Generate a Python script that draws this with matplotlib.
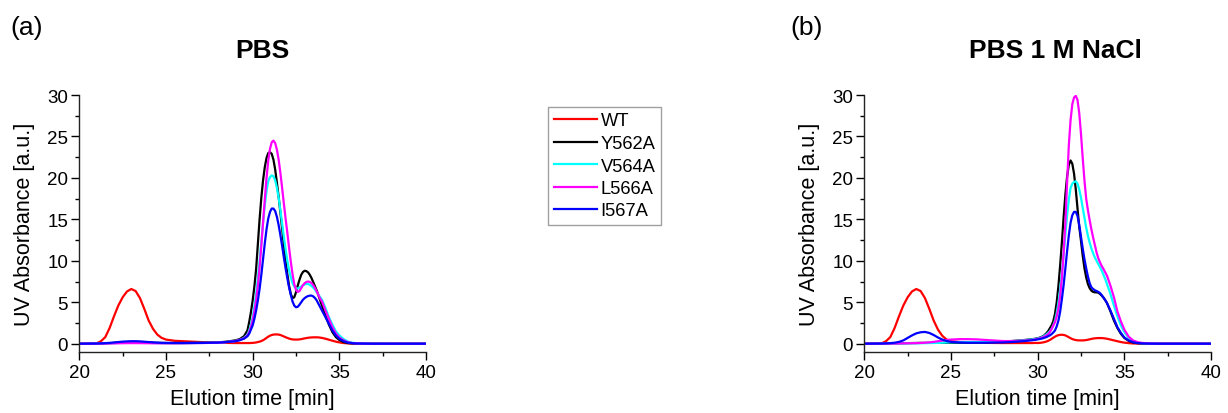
import matplotlib
matplotlib.use("Agg")
import matplotlib.pyplot as plt
from matplotlib.ticker import MultipleLocator

plt.rcParams['font.family'] = ['Liberation Sans', 'DejaVu Sans']

# elution time grid (min), shared by every trace
time = [20, 21, 21.25, 21.5, 21.75, 22, 22.25, 22.5, 22.75, 23, 23.25, 23.5, 23.75, 24, 24.25, 24.5, 24.75, 25,
        25.5, 26, 26.5, 27, 28, 28.5, 29, 29.25, 29.5, 29.7, 29.8, 29.9,
        30.0, 30.1, 30.2, 30.3, 30.4, 30.5, 30.6, 30.7, 30.8, 30.9,
        31.0, 31.1, 31.2, 31.3, 31.4, 31.5, 31.6, 31.7, 31.8, 31.9,
        32.0, 32.1, 32.2, 32.3, 32.4, 32.5, 32.6, 32.7, 32.8, 32.9,
        33.0, 33.1, 33.2, 33.3, 33.4, 33.5, 33.6, 33.7, 33.8, 33.9,
        34.0, 34.2, 34.4, 34.6, 34.8, 35.0, 35.25, 35.5, 35.75, 36, 36.5, 37, 40]

variants = ['WT', 'Y562A', 'V564A', 'L566A', 'I567A']
colors = ['#ff0000', '#000000', '#00ffff', '#ff00ff', '#0000ff']

# --- PBS
pbs_wt = [0, 0.05, 0.3, 0.8, 1.9, 3.3, 4.6, 5.6, 6.3, 6.6, 6.35, 5.5, 4.2, 2.8, 1.8, 1.1, 0.7, 0.5,
          0.35, 0.3, 0.25, 0.2, 0.12, 0.1, 0.08, 0.08, 0.08, 0.08, 0.08, 0.09,
          0.1, 0.12, 0.15, 0.2, 0.25, 0.32, 0.42, 0.55, 0.7, 0.85,
          0.97, 1.05, 1.1, 1.12, 1.12, 1.1, 1.05, 0.97, 0.88, 0.78,
          0.7, 0.62, 0.56, 0.52, 0.5, 0.5, 0.5, 0.52, 0.55, 0.6,
          0.64, 0.68, 0.72, 0.74, 0.76, 0.77, 0.77, 0.77, 0.76, 0.73,
          0.7, 0.6, 0.48, 0.36, 0.25, 0.16, 0.08, 0.04, 0.02, 0.01, 0, 0, 0]
pbs_y562a = [0, 0.02, 0.03, 0.05, 0.07, 0.1, 0.12, 0.15, 0.17, 0.18, 0.18, 0.17, 0.15, 0.13, 0.12, 0.1, 0.09, 0.08,
             0.08, 0.08, 0.09, 0.1, 0.15, 0.25, 0.4, 0.55, 0.9, 1.6, 2.6, 3.8,
             5.2, 6.9, 9.0, 12.0, 15.0, 17.6, 19.7, 21.3, 22.4, 23.0,
             23.1, 22.9, 22.2, 21.0, 19.4, 17.7, 15.8, 13.9, 11.9, 10.0,
             8.4, 7.0, 6.0, 5.5, 5.6, 6.2, 7.0, 7.7, 8.3, 8.65,
             8.8, 8.75, 8.6, 8.3, 7.9, 7.4, 6.9, 6.4, 5.8, 5.2,
             4.6, 3.4, 2.3, 1.4, 0.8, 0.45, 0.2, 0.08, 0.04, 0.02, 0.01, 0, 0]
pbs_v564a = [0, 0.02, 0.03, 0.04, 0.05, 0.07, 0.09, 0.11, 0.12, 0.13, 0.13, 0.12, 0.11, 0.1, 0.09, 0.08, 0.07, 0.07,
             0.07, 0.07, 0.08, 0.09, 0.12, 0.2, 0.32, 0.45, 0.7, 1.1, 1.6, 2.3,
             3.2, 4.5, 6.0, 7.9, 10.0, 12.3, 14.6, 16.7, 18.4, 19.6,
             20.1, 20.3, 20.2, 19.7, 18.8, 17.6, 16.1, 14.5, 12.9, 11.4,
             10.0, 8.9, 8.0, 7.3, 6.9, 6.7, 6.65, 6.75, 6.9, 7.05,
             7.15, 7.2, 7.2, 7.1, 6.95, 6.75, 6.5, 6.2, 5.9, 5.6,
             5.3, 4.3, 3.2, 2.3, 1.5, 1.0, 0.55, 0.25, 0.12, 0.06, 0.02, 0.01, 0]
pbs_l566a = [0, 0.01, 0.02, 0.02, 0.03, 0.04, 0.05, 0.06, 0.07, 0.07, 0.07, 0.07, 0.06, 0.06, 0.05, 0.05, 0.05, 0.05,
             0.05, 0.06, 0.07, 0.08, 0.12, 0.2, 0.32, 0.45, 0.65, 1.0, 1.4, 2.0,
             2.8, 3.9, 5.3, 7.0, 9.2, 11.8, 14.6, 17.4, 20.0, 22.1,
             23.5, 24.3, 24.5, 24.2, 23.4, 22.2, 20.6, 18.8, 16.9, 15.1,
             13.4, 11.6, 9.9, 8.4, 7.2, 6.5, 6.25, 6.35, 6.7, 7.05,
             7.3, 7.45, 7.5, 7.45, 7.3, 7.05, 6.7, 6.3, 5.85, 5.4,
             5.1, 4.0, 3.0, 2.0, 1.25, 0.75, 0.4, 0.18, 0.08, 0.04, 0.01, 0, 0]
pbs_i567a = [0, 0.02, 0.04, 0.07, 0.1, 0.15, 0.2, 0.25, 0.28, 0.3, 0.3, 0.28, 0.24, 0.2, 0.16, 0.13, 0.11, 0.1,
             0.09, 0.09, 0.1, 0.1, 0.13, 0.2, 0.3, 0.42, 0.6, 0.9, 1.2, 1.7,
             2.2, 3.0, 4.0, 5.2, 6.6, 8.3, 10.2, 12.1, 13.8, 15.1,
             15.9, 16.3, 16.3, 16.0, 15.3, 14.3, 13.1, 11.8, 10.4, 9.1,
             7.9, 6.8, 5.9, 5.1, 4.6, 4.4, 4.45, 4.7, 5.0, 5.3,
             5.5, 5.65, 5.75, 5.8, 5.8, 5.7, 5.5, 5.2, 4.8, 4.4,
             4.0, 3.2, 2.4, 1.6, 1.0, 0.6, 0.3, 0.13, 0.06, 0.03, 0.01, 0, 0]

# --- PBS + 1 M NaCl
nacl_wt = [0, 0.05, 0.3, 0.8, 1.9, 3.3, 4.6, 5.6, 6.3, 6.6, 6.35, 5.5, 4.2, 2.8, 1.7, 0.95, 0.5, 0.3,
           0.2, 0.15, 0.12, 0.1, 0.08, 0.08, 0.08, 0.08, 0.08, 0.08, 0.09, 0.1,
           0.08, 0.1, 0.12, 0.15, 0.2, 0.26, 0.34, 0.45, 0.58, 0.72,
           0.85, 0.96, 1.03, 1.07, 1.08, 1.06, 1.0, 0.9, 0.78, 0.66,
           0.56, 0.49, 0.44, 0.41, 0.4, 0.4, 0.4, 0.41, 0.44, 0.48,
           0.53, 0.58, 0.62, 0.65, 0.67, 0.68, 0.68, 0.68, 0.66, 0.63,
           0.6, 0.5, 0.4, 0.3, 0.2, 0.13, 0.07, 0.03, 0.02, 0.01, 0, 0, 0]
nacl_y562a = [0, 0.01, 0.02, 0.03, 0.04, 0.05, 0.06, 0.07, 0.08, 0.09, 0.1, 0.1, 0.1, 0.1, 0.1, 0.1, 0.1, 0.1,
              0.1, 0.12, 0.14, 0.17, 0.25, 0.32, 0.4, 0.45, 0.5, 0.55, 0.58, 0.62,
              0.65, 0.72, 0.8, 0.9, 1.05, 1.25, 1.5, 1.85, 2.2, 2.7,
              3.6, 5.0, 7.0, 9.5, 12.3, 15.3, 18.0, 20.2, 21.6, 22.1,
              21.7, 20.5, 18.6, 16.3, 14.1, 12.4, 10.6, 9.1, 8.0, 7.2,
              6.7, 6.4, 6.25, 6.2, 6.2, 6.15, 6.0, 5.8, 5.55, 5.25,
              4.9, 3.9, 2.8, 1.9, 1.2, 0.7, 0.35, 0.15, 0.07, 0.04, 0.01, 0, 0]
nacl_v564a = [0, 0.01, 0.01, 0.02, 0.02, 0.03, 0.03, 0.04, 0.05, 0.05, 0.06, 0.07, 0.08, 0.09, 0.1, 0.12, 0.14, 0.16,
              0.18, 0.2, 0.2, 0.2, 0.25, 0.3, 0.37, 0.42, 0.48, 0.52, 0.55, 0.58,
              0.62, 0.68, 0.75, 0.85, 0.98, 1.12, 1.3, 1.5, 1.8, 2.2,
              2.8, 3.7, 5.0, 6.6, 8.6, 10.8, 13.2, 15.5, 17.4, 18.8,
              19.3, 19.5, 19.6, 19.3, 18.6, 17.6, 16.4, 15.2, 14.0, 13.0,
              12.2, 11.5, 10.9, 10.4, 10.0, 9.6, 9.2, 8.8, 8.3, 7.8,
              7.2, 6.0, 4.6, 3.3, 2.2, 1.4, 0.7, 0.3, 0.13, 0.06, 0.02, 0.01, 0]
nacl_l566a = [0, 0.01, 0.01, 0.02, 0.02, 0.03, 0.04, 0.05, 0.06, 0.07, 0.09, 0.12, 0.16, 0.22, 0.3, 0.38, 0.45, 0.5,
              0.55, 0.55, 0.52, 0.45, 0.32, 0.32, 0.35, 0.38, 0.42, 0.46, 0.5, 0.54,
              0.58, 0.63, 0.7, 0.78, 0.88, 1.0, 1.15, 1.4, 1.75, 2.2,
              2.6, 3.3, 4.3, 5.8, 8.0, 11.0, 14.6, 19.5, 24.0, 27.0,
              28.9, 29.7, 29.9, 29.4, 27.8, 25.3, 22.4, 19.7, 17.5, 16.1,
              14.9, 13.8, 12.8, 11.9, 11.0, 10.3, 9.8, 9.35, 9.0, 8.6,
              8.2, 7.0, 5.6, 3.9, 2.7, 1.7, 0.85, 0.4, 0.2, 0.1, 0.03, 0.01, 0]
nacl_i567a = [0, 0.02, 0.04, 0.07, 0.12, 0.22, 0.4, 0.7, 1.0, 1.25, 1.38, 1.42, 1.3, 1.05, 0.75, 0.5, 0.32, 0.22,
              0.15, 0.12, 0.12, 0.12, 0.15, 0.2, 0.28, 0.32, 0.38, 0.42, 0.45, 0.48,
              0.52, 0.56, 0.6, 0.65, 0.72, 0.8, 0.9, 1.0, 1.15, 1.35,
              1.6, 2.1, 2.8, 3.9, 5.4, 7.1, 9.1, 11.2, 13.1, 14.6,
              15.5, 15.9, 15.9, 15.4, 14.3, 12.9, 11.5, 10.2, 9.1, 8.1,
              7.3, 6.8, 6.6, 6.45, 6.35, 6.25, 6.1, 5.85, 5.55, 5.25,
              4.9, 4.0, 3.0, 2.0, 1.3, 0.75, 0.4, 0.18, 0.08, 0.04, 0.01, 0, 0]

panels = [
    ('(a)', 'PBS', [pbs_wt, pbs_y562a, pbs_v564a, pbs_l566a, pbs_i567a]),
    ('(b)', 'PBS 1 M NaCl', [nacl_wt, nacl_y562a, nacl_v564a, nacl_l566a, nacl_i567a]),
]

W, H = 1228, 414
fig = plt.figure(figsize=(W / 100, H / 100), dpi=100)

ax_left = [79.3, 864.3]
title_x = [262, 1055]
tag_x = [10, 790]

for i, (tag, title, traces) in enumerate(panels):
    ax = fig.add_axes([ax_left[i] / W, (H - 353) / H, 346.7 / W, 257 / H])
    for y, c, name in zip(traces, colors, variants):
        ax.plot(time, y, color=c, lw=1.6, label=name)
    ax.set_xlim(20, 40)
    ax.set_ylim(-1, 30)
    ax.xaxis.set_major_locator(MultipleLocator(5))
    ax.xaxis.set_minor_locator(MultipleLocator(2.5))
    ax.yaxis.set_major_locator(MultipleLocator(5))
    ax.yaxis.set_minor_locator(MultipleLocator(2.5))
    for s in ('top', 'right'):
        ax.spines[s].set_visible(False)
    for s in ('left', 'bottom'):
        ax.spines[s].set_linewidth(1.0)
        ax.spines[s].set_color('#222222')
    ax.tick_params(which='major', direction='out', length=6, width=1.0, labelsize=13.5)
    ax.tick_params(axis='y', which='major', pad=2)
    ax.tick_params(axis='x', which='major', pad=3)
    ax.tick_params(which='minor', direction='out', length=3, width=1.0)
    ax.set_xlabel('Elution time [min]', fontsize=15.5, labelpad=5)
    ax.set_ylabel('UV Absorbance [a.u.]', fontsize=15.5, labelpad=9)
    fig.text(title_x[i] / W, 1 - 51 / H, title, fontsize=19, fontweight='bold', ha='center', va='center')
    fig.text(tag_x[i] / W, 1 - 28 / H, tag, fontsize=19, ha='left', va='center')
    if i == 0:
        handles, labels = ax.get_legend_handles_labels()

leg = fig.legend(handles, labels, loc='upper left', bbox_to_anchor=(548 / W, 1 - 108 / H),
                 fontsize=13.2, frameon=True, fancybox=False, handlelength=2.35, handletextpad=0.22,
                 labelspacing=0.3, borderpad=0.3, borderaxespad=0)
leg.get_frame().set_edgecolor('#888888')
leg.get_frame().set_linewidth(1.0)

fig.savefig('out.png', dpi=100)
